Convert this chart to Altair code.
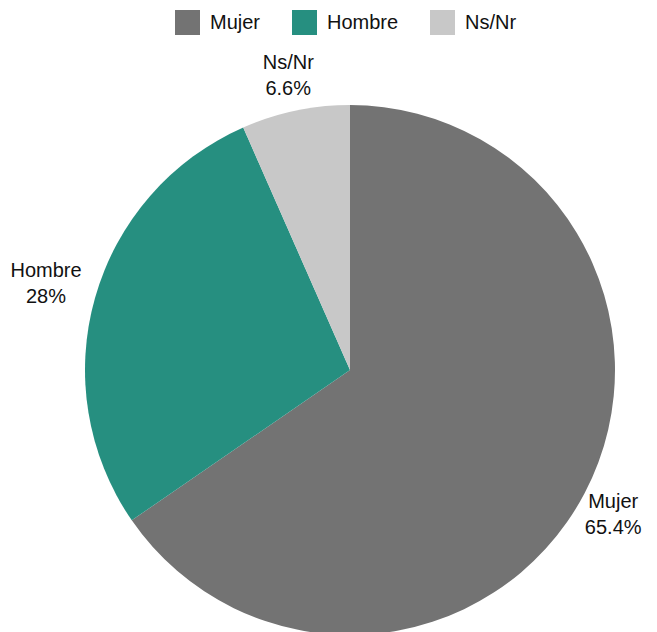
import altair as alt
import pandas as pd

categories = ["Mujer", "Hombre", "Ns/Nr"]
values = [65.4, 28.0, 6.6]
labels = ["65.4%", "28%", "6.6%"]
colors = ["#737373", "#268f80", "#c8c8c8"]

df = pd.DataFrame({
    "cat": categories,
    "val": values,
    "ord": list(range(len(categories))),
    "lab": [f"{c}\n{l}" for c, l in zip(categories, labels)],
})

CX, CY = 342, 362

base = alt.Chart(df).encode(
    theta=alt.Theta("val:Q", stack=True),
    order=alt.Order("ord:Q"),
)

pie = base.mark_arc(radius=265, stroke=None).encode(
    x=alt.value(CX),
    y=alt.value(CY),
    color=alt.Color(
        "cat:N",
        scale=alt.Scale(domain=categories, range=colors),
        sort=categories,
        legend=alt.Legend(
            title=None,
            orient="none",
            legendX=167,
            legendY=2,
            direction="horizontal",
            symbolType="square",
            symbolSize=625,
            symbolStrokeWidth=0,
            labelFontSize=20,
            labelFont="Liberation Sans",
            labelColor="#111111",
            labelOffset=10,
            columnPadding=31,
        ),
    ),
)

# label distance from the centre differs per slice (box edge kept ~14px off the pie)
label_radius = {"Mujer": 312, "Hombre": 316, "Ns/Nr": 300}
label_dx = {"Mujer": -13, "Hombre": 0, "Ns/Nr": 0}

text_layers = []
for cat in categories:
    t = base.mark_text(
        radius=label_radius[cat],
        fontSize=20,
        font="Liberation Sans",
        color="#111111",
        lineBreak="\n",
        lineHeight=26,
        align="center",
        baseline="middle",
        dy=-13,
        dx=label_dx[cat],
    ).encode(
        x=alt.value(CX),
        y=alt.value(CY),
        text=alt.condition(alt.datum.cat == cat, "lab:N", alt.value("")),
    )
    text_layers.append(t)

chart = alt.layer(pie, *text_layers).properties(
    width=641,
    height=624,
    autosize=alt.AutoSizeParams(type="none"),
    padding=0,
).configure_view(stroke=None)

chart.save("out.html", embed_options={"renderer": "svg", "actions": False})
